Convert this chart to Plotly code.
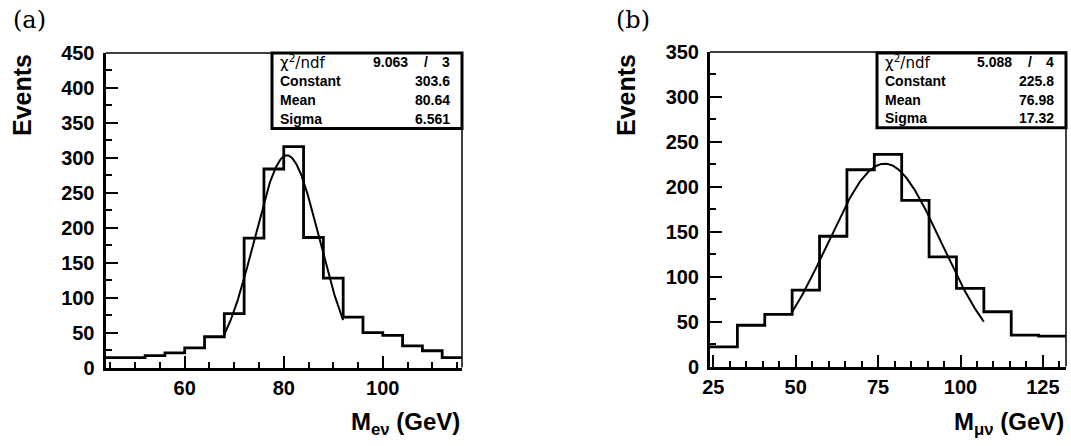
"""Two ROOT-style histograms with Gaussian fits (M_enu and M_munu)."""

import numpy as np
import plotly.graph_objects as go

W, H = 1071, 446

# left panel (a): electron channel, 4 GeV bins from 44 to 116
e_edges = [44, 48, 52, 56, 60, 64, 68, 72, 76, 80, 84, 88, 92, 96, 100, 104, 108, 112, 116]
e_counts = [14, 14, 17, 21, 28, 44, 77, 185, 284, 316, 186, 128, 72, 50, 46, 31, 24, 14]
e_fit = {"const": 303.6, "mean": 80.64, "sigma": 6.561, "lo": 68.0, "hi": 92.0}
e_stats = [("χ<sup>2</sup>/ndf", "9.063", "3"), ("Constant", "303.6", None),
           ("Mean", "80.64", None), ("Sigma", "6.561", None)]

# right panel (b): muon channel, 13 bins from 24 to 132
m_edges = list(np.linspace(24, 132, 14))
m_counts = [22, 46, 58, 85, 145, 219, 236, 185, 122, 87, 61, 35, 34]
m_fit = {"const": 225.8, "mean": 76.98, "sigma": 17.32, "lo": 48.92, "hi": 107.08}
m_stats = [("χ<sup>2</sup>/ndf", "5.088", "4"), ("Constant", "225.8", None),
           ("Mean", "76.98", None), ("Sigma", "17.32", None)]


def px(x):
    return x / W


def py(y):
    return 1 - y / H


def gauss(fit):
    x = np.linspace(fit["lo"], fit["hi"], 200)
    y = fit["const"] * np.exp(-0.5 * ((x - fit["mean"]) / fit["sigma"]) ** 2)
    return x, y


BOLD = {"family": "Liberation Sans", "size": 14, "weight": "bold"}

fig = go.Figure()

panels = [
    # edges, counts, fit, stats, axis suffix, frame px (l, r, t, b), y max, x range, dticks
    (e_edges, e_counts, e_fit, e_stats, "", (105.5, 462, 53, 367.5), 450, [44, 116], 20,
     "(a)", 11, "M<sub>eν</sub> (GeV)", (272, 462, 53, 128.5), 22),
    (m_edges, m_counts, m_fit, m_stats, "2", (710, 1066, 52, 366.6), 350, [24, 132], 25,
     "(b)", 614, "M<sub>μν</sub> (GeV)", (877, 1066, 53, 127.7), 626),
]

for (edges, counts, fit, stats, ax, frame, ymax, xrange_, xdt,
     tag, tag_x, xtitle, box, ev_x) in panels:
    l, r, t, b = frame
    xa, ya = "x" + ax, "y" + ax

    fig.add_trace(go.Scatter(
        x=edges, y=list(counts) + [counts[-1]], mode="lines", line_shape="hv",
        line={"color": "black", "width": 2.8}, xaxis=xa, yaxis=ya, showlegend=False,
    ))
    gx, gy = gauss(fit)
    fig.add_trace(go.Scatter(
        x=gx, y=gy, mode="lines", line={"color": "black", "width": 2},
        xaxis=xa, yaxis=ya, showlegend=False,
    ))

    axis_common = dict(
        showline=True, linecolor="black", linewidth=3, ticks="inside",
        tickcolor="black", tickwidth=2, ticklen=12, showgrid=False, zeroline=False,
        tickfont={"family": "Liberation Sans", "size": 20, "color": "black", "weight": "bold"},
    )
    fig.layout["xaxis" + ax] = dict(
        axis_common, domain=[px(l), px(r)], range=xrange_, dtick=xdt, tick0=0,
        anchor=ya, minor={"dtick": 5, "ticks": "inside", "ticklen": 6, "tickwidth": 2,
                          "tickcolor": "black"},
    )
    fig.layout["yaxis" + ax] = dict(
        axis_common, domain=[py(b), py(t)], range=[0, ymax], dtick=50, tick0=0,
        anchor=xa, ticklabelstandoff=4,
        minor={"dtick": 25, "ticks": "inside", "ticklen": 6, "tickwidth": 2,
               "tickcolor": "black"},
    )

    # thin top/right frame
    fig.add_shape(type="path", path=f"M {px(l)} {py(t)} L {px(r)} {py(t)} L {px(r)} {py(b)}",
                  xref="paper", yref="paper", line={"color": "black", "width": 1.5})

    # stat box
    bl, br, bt, bb = box
    fig.add_shape(type="rect", x0=px(bl), x1=px(br), y0=py(bb), y1=py(bt),
                  xref="paper", yref="paper", fillcolor="white",
                  line={"color": "black", "width": 3})
    row_h = (bb - bt) / 4
    for i, (name, val, ndf) in enumerate(stats):
        yc = py(bt + row_h * (i + 0.5))
        if ndf is None:
            fig.add_annotation(x=px(bl + 6), y=yc, text=name, xanchor="left", font=BOLD)
            fig.add_annotation(x=px(br - 10), y=yc, text=val, xanchor="right", font=BOLD)
        else:
            fig.add_annotation(x=px(bl + 6), y=yc, text=name, xanchor="left",
                               font={"family": "DejaVu Sans", "size": 15, "weight": "normal"})
            fig.add_annotation(x=px(br - 52), y=yc, text=val, xanchor="right", font=BOLD)
            fig.add_annotation(x=px(br - 36), y=yc, text="/", xanchor="center", font=BOLD)
            fig.add_annotation(x=px(br - 10), y=yc, text=ndf, xanchor="right", font=BOLD)

    # panel tag, axis titles
    fig.add_annotation(x=px(tag_x), y=py(20), text=tag, xanchor="left",
                       font={"family": "DejaVu Serif", "size": 24, "color": "black"})
    fig.add_annotation(x=px(ev_x), y=py(95), text="Events", textangle=-90, xanchor="center",
                       font={"family": "Liberation Sans", "size": 25, "weight": "bold"})
    fig.add_annotation(x=px(r), y=py(423), text=xtitle, xanchor="right",
                       font={"family": "Liberation Sans", "size": 24, "weight": "bold"})

fig.update_annotations(showarrow=False, xref="paper", yref="paper", yanchor="middle",
                       font_color="black")
fig.update_layout(
    width=W, height=H,
    margin={"l": 0, "r": 0, "t": 0, "b": 0, "pad": 0, "autoexpand": False},
    paper_bgcolor="white", plot_bgcolor="white", showlegend=False,
)
fig.write_html(
    "out.html",
    config={"displayModeBar": False},
    post_script="document.body.style.margin='0';document.body.style.overflow='hidden';",
)
